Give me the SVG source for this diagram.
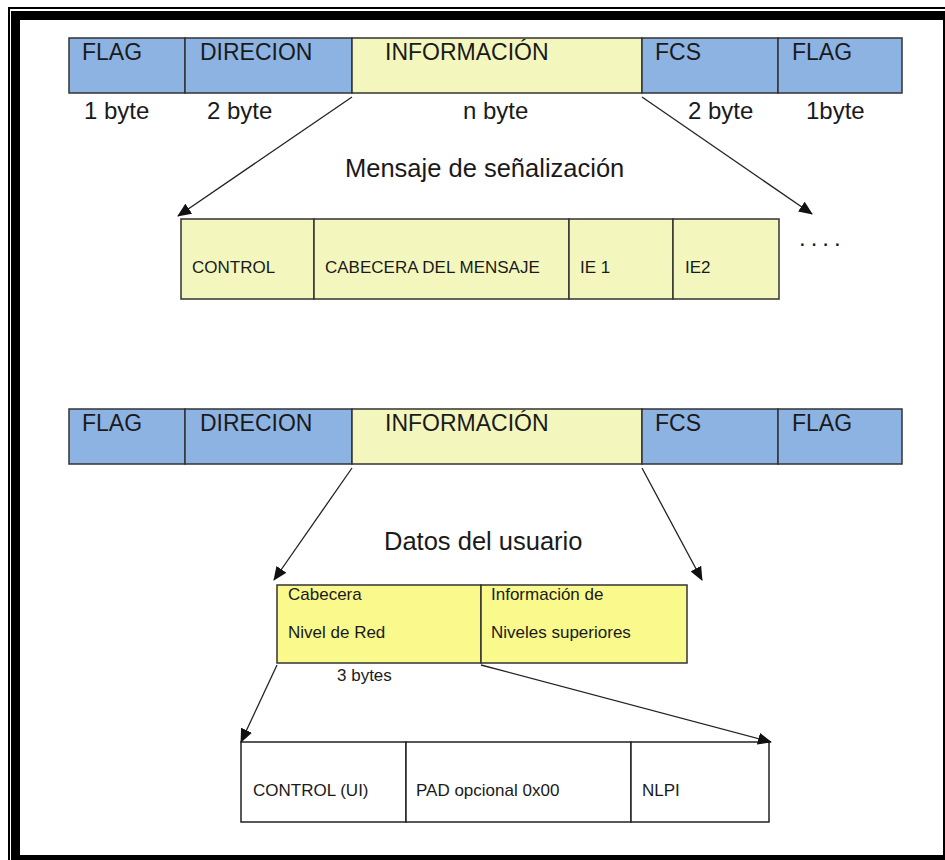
<svg xmlns="http://www.w3.org/2000/svg" width="945" height="860" viewBox="0 0 945 860">
<defs>
<style>
.blue{fill:#8DB3E2;stroke:#333;stroke-width:1.5}
.yel{fill:#F3F7BE;stroke:#333;stroke-width:1.5}
.yel2{fill:#F9F98C;stroke:#333;stroke-width:1.5}
.wht{fill:#fff;stroke:#222;stroke-width:1.5}
.big{font-family:"Liberation Sans",Arial,sans-serif;font-size:23px;fill:#1a1a1a}
.byt{font-family:"Liberation Sans",Arial,sans-serif;font-size:24px;fill:#1a1a1a}
.cap{font-family:"Liberation Sans",Arial,sans-serif;font-size:25.5px;fill:#1a1a1a}
.sm{font-family:"Liberation Sans",Arial,sans-serif;font-size:17px;fill:#1a1a1a}
.con{stroke:#222;stroke-width:1.3;fill:none;marker-end:url(#ah)}
.frm{fill:#000}
</style>
<marker id="ah" markerUnits="userSpaceOnUse" markerWidth="14" markerHeight="12" viewBox="0 0 14 12" refX="13" refY="6" orient="auto">
<path d="M0,0 L14,6 L0,12 Z" fill="#111"/>
</marker>
</defs>
<rect width="945" height="860" fill="#fff"/>
<g id="frame">
<rect class="frm" x="8" y="7" width="937" height="2"/>
<rect class="frm" x="8" y="7" width="2" height="853"/>
<rect class="frm" x="11" y="11" width="934" height="9"/>
<rect class="frm" x="11" y="11" width="9" height="849"/>
<rect class="frm" x="11" y="855" width="934" height="5"/>
<rect class="frm" x="943" y="11" width="2" height="849"/>
</g>
<g id="frame1">
<rect class="blue" x="69" y="38" width="116" height="55"/>
<rect class="blue" x="185" y="38" width="167" height="55"/>
<rect class="yel" x="352" y="38" width="290" height="55"/>
<rect class="blue" x="642" y="38" width="136" height="55"/>
<rect class="blue" x="778" y="38" width="124" height="55"/>
<text class="big" x="82" y="60">FLAG</text>
<text class="big" x="200" y="60">DIRECION</text>
<text class="big" x="385" y="60">INFORMACIÓN</text>
<text class="big" x="655" y="60">FCS</text>
<text class="big" x="792" y="60">FLAG</text>
<text class="byt" x="84" y="119">1 byte</text>
<text class="byt" x="207" y="119">2 byte</text>
<text class="byt" x="463" y="119">n byte</text>
<text class="byt" x="688" y="119">2 byte</text>
<text class="byt" x="806" y="119">1byte</text>
</g>
<g id="caption1"><text class="cap" x="345" y="177">Mensaje de señalización</text></g>
<g id="mensaje">
<rect class="yel" x="181" y="219" width="133" height="80"/>
<rect class="yel" x="314" y="219" width="255" height="80"/>
<rect class="yel" x="569" y="219" width="104" height="80"/>
<rect class="yel" x="673" y="219" width="106" height="80"/>
<text class="sm" x="192" y="273">CONTROL</text>
<text class="sm" x="325" y="273">CABECERA DEL MENSAJE</text>
<text class="sm" x="580" y="273">IE 1</text>
<text class="sm" x="685" y="273">IE2</text>
</g>
<g id="dots"><text class="byt" x="799" y="246" letter-spacing="5">....</text></g>
<g id="frame2">
<rect class="blue" x="69" y="409" width="116" height="55"/>
<rect class="blue" x="185" y="409" width="167" height="55"/>
<rect class="yel" x="352" y="409" width="290" height="55"/>
<rect class="blue" x="642" y="409" width="136" height="55"/>
<rect class="blue" x="778" y="409" width="124" height="55"/>
<text class="big" x="82" y="431">FLAG</text>
<text class="big" x="200" y="431">DIRECION</text>
<text class="big" x="385" y="431">INFORMACIÓN</text>
<text class="big" x="655" y="431">FCS</text>
<text class="big" x="792" y="431">FLAG</text>
</g>
<g id="caption2"><text class="cap" x="384" y="550">Datos del usuario</text></g>
<g id="datos">
<rect class="yel2" x="277" y="585" width="204" height="78"/>
<rect class="yel2" x="481" y="585" width="206" height="78"/>
<text class="sm" x="288" y="600">Cabecera</text>
<text class="sm" x="288" y="638">Nivel de Red</text>
<text class="sm" x="491" y="600">Información de</text>
<text class="sm" x="491" y="638">Niveles superiores</text>
<text class="sm" x="337" y="681">3 bytes</text>
</g>
<g id="cabecera">
<rect class="wht" x="241" y="742" width="165" height="80"/>
<rect class="wht" x="406" y="742" width="225" height="80"/>
<rect class="wht" x="631" y="742" width="138" height="80"/>
<text class="sm" x="253" y="796">CONTROL (UI)</text>
<text class="sm" x="416" y="796">PAD opcional 0x00</text>
<text class="sm" x="642" y="796">NLPI</text>
</g>
<g id="connectors">
<line class="con" x1="352" y1="97" x2="178" y2="216"/>
<line class="con" x1="642" y1="97" x2="812" y2="214"/>
<line class="con" x1="352" y1="468" x2="274" y2="580"/>
<line class="con" x1="642" y1="468" x2="702" y2="580"/>
<line class="con" x1="277" y1="665" x2="241" y2="742"/>
<line class="con" x1="481" y1="665" x2="771" y2="742"/>
</g>
</svg>
